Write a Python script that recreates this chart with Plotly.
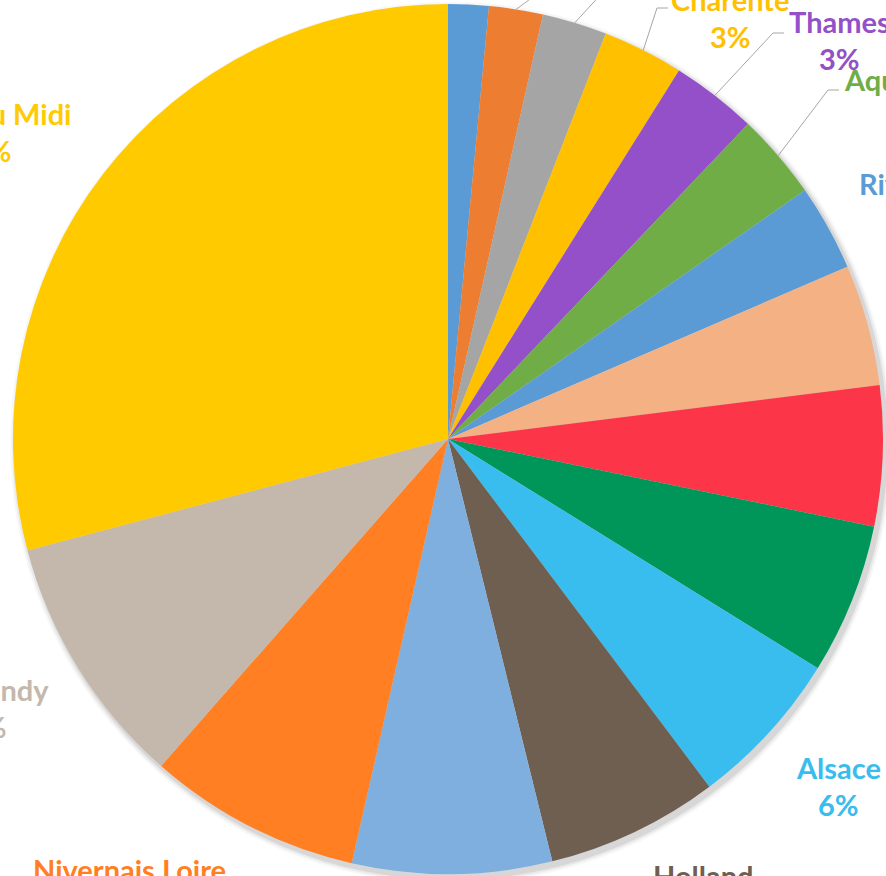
import math
import plotly.graph_objects as go

# ---------------- data ----------------
regions = ["Venice", "Scotland", "Camargue", "Charente", "Thames", "Aquitaine",
           "River Shannon", "Brittany", "Mecklenburg", "Lorraine", "Alsace",
           "Holland", "Belgium", "Nivernais Loire", "Burgundy", "Canal du Midi"]
shares = [1.5, 2.0, 2.4, 3.0, 3.2, 3.2, 3.2, 4.5, 5.2, 5.6, 5.9, 6.4, 7.4, 7.9, 9.4, 29.1]
colors = ["#5B9BD5", "#ED7D31", "#A5A5A5", "#FFC000", "#9350C8", "#70AD47",
          "#5B9BD5", "#F4B183", "#FC3549", "#00965A", "#38BDEE", "#6E5F51",
          "#7EAFDE", "#FF7F22", "#C4B8AC", "#FFCA00"]

# ---------------- layout / styling ----------------
W, H = 886, 876
CX, CY, R = 448, 439, 435          # pie centre and radius in pixels

# label block centres (pixels) and optional leader elbows
label_pos = [(470, -110), (660, -90), (690, -80), (730, 18), (839, 40), (907, 98),
             (952, 202), (975, 330), (985, 490), (942, 627), (838, 786),
             (703, 894), (448, 980), (129, 888), (-14, 708), (-18, 132)]
elbows = [None, (610, -60), (660, -70), (657, 8), (773, 33), (828, 90),
          None, None, None, None, None, None, None, None, None, None]
LINE_GAP = 37
FONT_SIZE = 29


def px(x):
    return x / W


def py(y):
    return 1 - y / H


total = sum(shares)
fig = go.Figure(go.Pie(
    labels=regions, values=shares, sort=False, direction="clockwise", rotation=0,
    marker=dict(colors=colors, line=dict(width=0)),
    textinfo="none", hoverinfo="label+percent", showlegend=False,
    domain=dict(x=[px(CX - R), px(CX + R)], y=[py(CY + R), py(CY - R)]),
))

shapes = []
# soft shadow (bottom-right)
for grow, alpha in [(6, 0.03), (4, 0.05), (2, 0.08)]:
    shapes.append(dict(type="circle", xref="paper", yref="paper", layer="below",
                       x0=px(CX + 3 - R - grow), x1=px(CX + 3 + R + grow),
                       y0=py(CY + 4 + R + grow), y1=py(CY + 4 - R - grow),
                       fillcolor=f"rgba(0,0,0,{alpha})", line=dict(width=0)))

annotations = []
cum = 0.0
for name, v, col, (lx, ly), el in zip(regions, shares, colors, label_pos, elbows):
    mid = (cum + v / 2) / total * 2 * math.pi
    cum += v
    pct = f"{round(v / total * 100)}%"
    for txt, yy in [(name, ly - LINE_GAP / 2), (pct, ly + LINE_GAP / 2)]:
        annotations.append(dict(x=px(lx), y=py(yy), xref="paper", yref="paper",
                                text=txt, showarrow=False, xanchor="center", yanchor="middle",
                                font=dict(family="Lato", size=FONT_SIZE, color=col, weight=700)))
    if el is not None:
        sx = CX + R * math.sin(mid)
        sy = CY - R * math.cos(mid)
        ex, ey = el
        path = f"M {px(sx)} {py(sy)} L {px(ex)} {py(ey)} L {px(ex + 11)} {py(ey)}"
        shapes.append(dict(type="path", xref="paper", yref="paper", path=path,
                           line=dict(color="#A6A6A6", width=1), layer="above"))

fig.update_layout(width=W, height=H, margin=dict(l=0, r=0, t=0, b=0),
                  paper_bgcolor="white", plot_bgcolor="white",
                  shapes=shapes, annotations=annotations)
fig.write_html("out.html")
